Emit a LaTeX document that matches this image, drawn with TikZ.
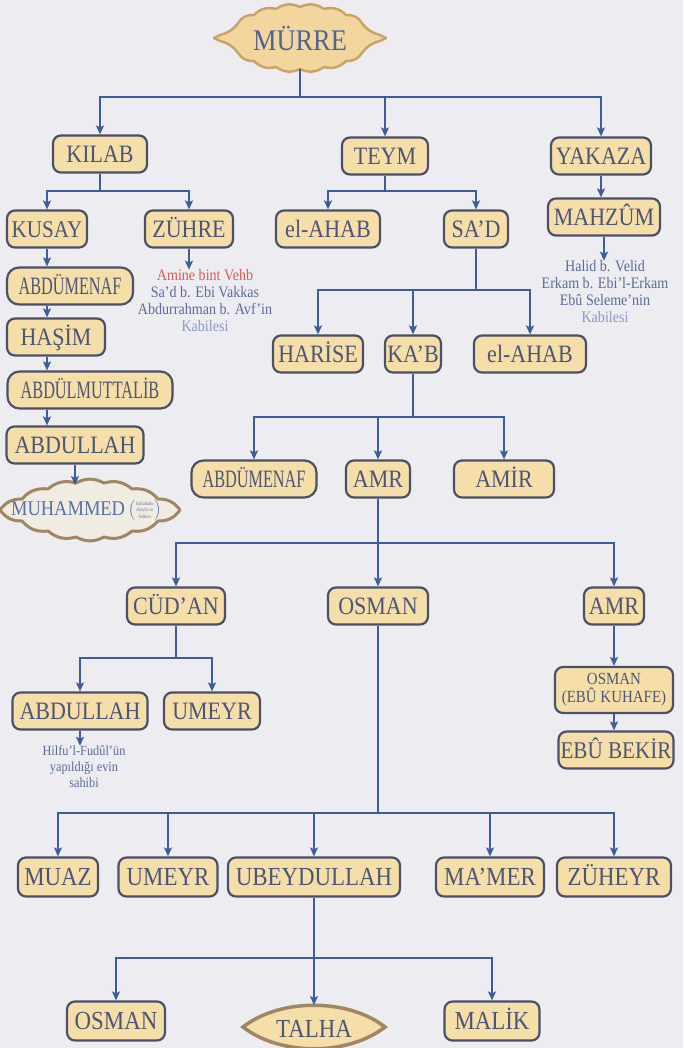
\documentclass[tikz,border=0pt]{standalone}
\usepackage{fontspec}
\setmainfont[FakeStretch=0.88]{Liberation Serif}
\newfontfamily\narrowfont[FakeStretch=0.65]{Liberation Serif}
\usetikzlibrary{arrows.meta}

\definecolor{paper}{HTML}{EDEDF1}
\definecolor{boxfill}{HTML}{F6DEA8}
\definecolor{boxline}{HTML}{4A5068}
\definecolor{boxtext}{HTML}{4B5578}
\definecolor{linkblue}{HTML}{3D5C9C}
\definecolor{goldline}{HTML}{C9A367}
\definecolor{murrefill}{HTML}{F3D69E}
\definecolor{brownline}{HTML}{A08662}
\definecolor{muhfill}{HTML}{F1ECE2}
\definecolor{muhblue}{HTML}{5670A8}
\definecolor{titleblue}{HTML}{506494}
\definecolor{notered}{HTML}{E0574F}
\definecolor{noteblue}{HTML}{5B6A9A}
\definecolor{palenote}{HTML}{8A98C8}

\begin{document}
\begin{tikzpicture}[x=1pt, y=-1pt,
  box/.style={draw=boxline, line width=2.2pt, fill=boxfill, rounded corners=8pt,
    text=boxtext, font=\fontsize{25}{25}\selectfont, minimum height=37pt,
    inner sep=2pt, text height=16.5pt, text depth=0pt},
  bigbox/.style={box, font=\fontsize{26}{26}\selectfont, minimum height=39pt, text height=17pt},
  narrow/.style={font=\narrowfont\fontsize{25}{25}\selectfont, rounded corners=12pt},
  link/.style={draw=linkblue, line width=2pt},
  arr/.style={link, -{Stealth[length=9pt,width=8pt,inset=2pt]}},
  note/.style={align=center, text=noteblue, font=\fontsize{16}{17}\selectfont, inner sep=0pt},
  murreshape/.style={draw=goldline, fill=murrefill, line width=2.5pt, line join=round},
  muhshape/.style={draw=brownline, fill=muhfill, line width=3pt, line join=round},
  talhashape/.style={draw=brownline, fill=boxfill, line width=3.5pt}]

\fill[paper] (0,0) rectangle (683,1048);
\useasboundingbox (0,0) rectangle (683,1048);

% title
\begin{scope}[shift={(300,38)}]
\filldraw[murreshape] (-86,0) -- (-80,-3) to[bend right=20] (-62,-15) to[bend left=30] (-46,-23)
  to[bend left=30] (-24,-29) to[bend left=30] (0,-31) to[bend left=30] (24,-29)
  to[bend left=30] (46,-23) to[bend left=30] (62,-15) to[bend right=20] (80,-3) -- (86,0)
  -- (80,3) to[bend right=20] (62,15) to[bend left=30] (46,23) to[bend left=30] (24,29)
  to[bend left=30] (0,31) to[bend left=30] (-24,29) to[bend left=30] (-46,23)
  to[bend left=30] (-62,15) to[bend right=20] (-80,3) -- cycle;
\end{scope}
\node[text=titleblue, font=\fontsize{30}{30}\selectfont] (murre) at (300,38) {MÜRRE};
\coordinate (murrebase) at (300,69);

% first generation
\node[box, minimum width=94pt] (kilab) at (100,154) {KILAB};
\node[box, minimum width=86pt] (teym) at (385,156) {TEYM};
\node[box, minimum width=100pt] (yakaza) at (601,156) {YAKAZA};
\coordinate (b0) at (300,97);
\draw[link] (murrebase) -- (b0);
\foreach \n in {kilab,teym,yakaza}
  \draw[arr] (b0) -| (\n.north);

% second generation
\node[box, minimum width=80pt, font=\fontsize{24}{24}\selectfont] (kusay) at (47,229) {KUSAY};
\node[box, minimum width=88pt] (zuhre) at (189,229) {ZÜHRE};
\node[box, minimum width=104pt] (ahab) at (328,229) {el-AHAB};
\node[box, minimum width=64pt] (sad) at (476,229) {SA'D};
\node[box, minimum width=112pt] (mahzum) at (604,217) {MAHZÛM};
\coordinate (b1) at (100,191);
\coordinate (b2) at (385,191);
\draw[link] (kilab) -- (b1);
\draw[link] (teym) -- (b2);
\foreach \n in {kusay,zuhre}
  \draw[arr] (b1) -| (\n.north);
\foreach \n in {ahab,sad}
  \draw[arr] (b2) -| (\n.north);
\draw[arr] (yakaza) -- (yakaza |- mahzum.north);

% tribes
\node[note] (zuhrenote) at (205,301) {\textcolor{notered}{Amine bint Vehb}\\Sa'd b. Ebi Vakkas\\Abdurrahman b. Avf'in\\\textcolor{palenote}{Kabilesi}};
\node[note] (mahzumnote) at (605,292) {Halid b. Velid\\Erkam b. Ebi'l-Erkam\\Ebû Seleme'nin\\\textcolor{palenote}{Kabilesi}};
\draw[arr] (zuhre) -- (zuhre |- zuhrenote.north);
\draw[arr] (mahzum) -- (mahzum |- mahzumnote.north);

% line of the prophet
\node[box, narrow, minimum width=126pt] (abdumenaf) at (70,286) {ABDÜMENAF};
\node[box, minimum width=98pt] (hasim) at (56,337) {HAŞİM};
\node[box, narrow, minimum width=165pt] (muttalib) at (90,390) {ABDÜLMUTTALİB};
\node[box, minimum width=137pt] (abdullah) at (75,445) {ABDULLAH};
\draw[arr] (kusay) -- (kusay |- abdumenaf.north);
\draw[arr] (abdumenaf.south -| kusay) -- (hasim.north -| kusay);
\draw[arr] (hasim.south -| kusay) -- (muttalib.north -| kusay);
\draw[arr] (muttalib.south -| kusay) -- (abdullah.north -| kusay);

\begin{scope}[shift={(90,510)}]
\filldraw[muhshape] (-90,0) to[bend left=28] (-68,-11) to[bend left=28] (-42,-21)
  to[bend left=28] (-14,-27) to[bend left=28] (14,-27) to[bend left=28] (42,-21)
  to[bend left=28] (68,-11) to[bend left=28] (90,0) to[bend left=28] (68,11)
  to[bend left=28] (42,21) to[bend left=28] (14,27) to[bend left=28] (-14,27)
  to[bend left=28] (-42,21) to[bend left=28] (-68,11) to[bend left=28] (-90,0) -- cycle;
\end{scope}
\node[text=muhblue, font=\fontsize{21}{21}\selectfont, inner sep=0pt] (muhammed) at (86,510)
  {MUHAMMED\,$\left(\vcenter{\fontsize{5}{6.5}\selectfont\halign{\hfil#\hfil\cr Sallallahu\cr Aleyhi ve\cr Sellem\cr}}\right)$};
\coordinate (muhtop) at (75,485);
\draw[arr] (abdullah) -- (muhtop);

% teym branch
\node[box, minimum width=90pt] (harise) at (318,354) {HARİSE};
\node[box, minimum width=56pt] (kab) at (413,354) {KA'B};
\node[box, minimum width=112pt] (ahabb) at (530,354) {el-AHAB};
\coordinate (b3) at (476,290);
\draw[link] (sad) -- (b3);
\foreach \n in {harise,kab,ahabb}
  \draw[arr] (b3) -| (\n.north);

\node[box, narrow, minimum width=125pt] (abdumenafb) at (254,479) {ABDÜMENAF};
\node[box, minimum width=64pt] (amr) at (378,479) {AMR};
\node[box, minimum width=100pt] (amir) at (504,479) {AMİR};
\coordinate (b4) at (413,417);
\draw[link] (kab) -- (b4);
\foreach \n in {abdumenafb,amr,amir}
  \draw[arr] (b4) -| (\n.north);

\node[box, minimum width=98pt] (cudan) at (176,606) {CÜD'AN};
\node[box, minimum width=100pt] (osman) at (378,606) {OSMAN};
\node[box, minimum width=60pt] (amrb) at (614,606) {AMR};
\coordinate (b5) at (378,543);
\draw[link] (amr) -- (b5);
\foreach \n in {cudan,osman,amrb}
  \draw[arr] (b5) -| (\n.north);

\node[box, minimum width=135pt] (abdullahb) at (80,711) {ABDULLAH};
\node[box, minimum width=96pt] (umeyr) at (212,711) {UMEYR};
\coordinate (b6) at (176,658);
\draw[link] (cudan) -- (b6);
\foreach \n in {abdullahb,umeyr}
  \draw[arr] (b6) -| (\n.north);
\node[note, font=\fontsize{14}{16}\selectfont] (hilf) at (84,767) {Hilfu'l-Fudûl'ün\\yapıldığı evin\\sahibi};
\draw[arr] (abdullahb) -- (abdullahb |- hilf.north);

\node[box, font=\fontsize{17}{18}\selectfont, text height=, text depth=, align=center,
  minimum width=118pt, minimum height=46pt] (kuhafe) at (614,690) {OSMAN\\(EBÛ KUHAFE)};
\node[box, font=\fontsize{24}{24}\selectfont, minimum width=113pt] (ebubekir) at (616,750) {EBÛ BEKİR};
\draw[arr] (amrb) -- (amrb |- kuhafe.north);
\draw[arr] (kuhafe) -- (kuhafe |- ebubekir.north);

% sons of osman
\node[bigbox, minimum width=80pt] (muaz) at (58,877) {MUAZ};
\node[bigbox, minimum width=99pt] (umeyrb) at (168,877) {UMEYR};
\node[bigbox, minimum width=172pt] (ubeydullah) at (314,877) {UBEYDULLAH};
\node[bigbox, minimum width=108pt] (mamer) at (490,877) {MA'MER};
\node[bigbox, minimum width=114pt] (zuheyr) at (614,877) {ZÜHEYR};
\coordinate (b7) at (378,813);
\draw[link] (osman) -- (b7);
\foreach \n in {muaz,umeyrb,ubeydullah,mamer,zuheyr}
  \draw[arr] (b7) -| (\n.north);

\node[bigbox, minimum width=98pt] (osmanb) at (116,1021) {OSMAN};
\node[bigbox, minimum width=95pt] (malik) at (492,1021) {MALİK};
\filldraw[talhashape] (243,1027) .. controls (280,998) and (348,998) .. (385,1027)
  .. controls (348,1056) and (280,1056) .. (243,1027) -- cycle;
\node[text=boxtext, font=\fontsize{26}{26}\selectfont] (talha) at (314,1029) {TALHA};
\coordinate (talhatop) at (314,1005);
\coordinate (b8) at (314,958);
\draw[link] (ubeydullah) -- (b8);
\foreach \n in {osmanb,malik}
  \draw[arr] (b8) -| (\n.north);
\draw[arr] (b8) -- (talhatop);
\end{tikzpicture}
\end{document}
